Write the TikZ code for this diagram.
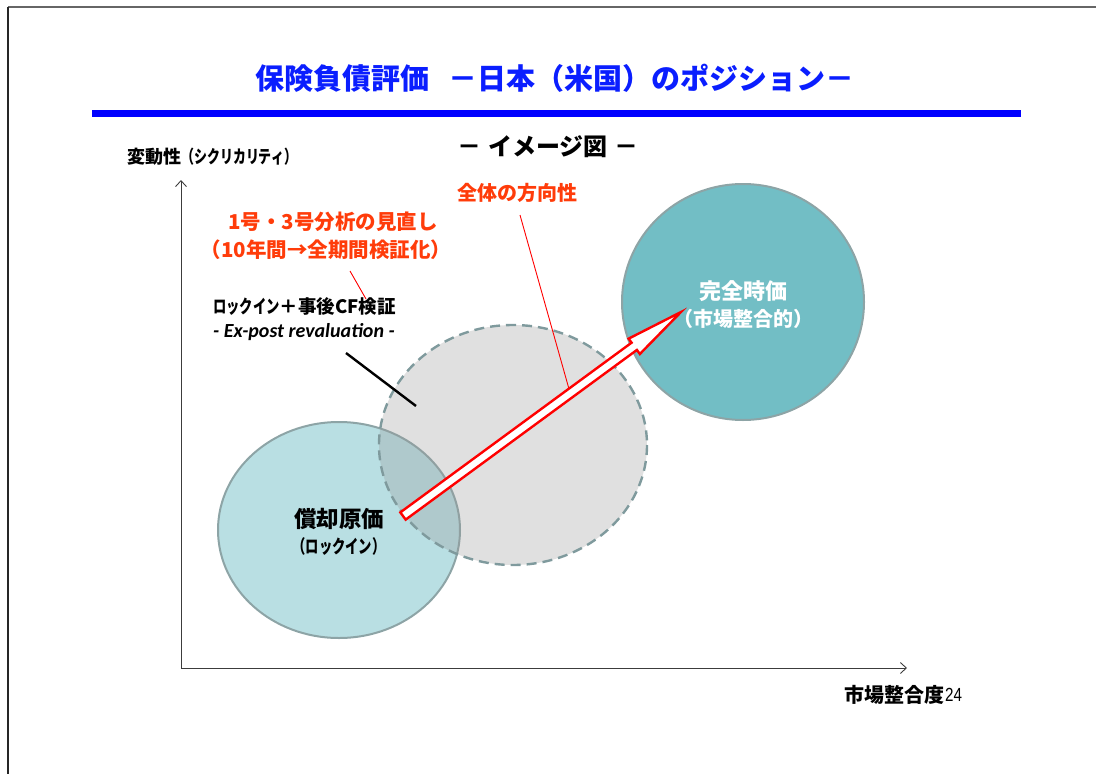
\documentclass[tikz,border=0pt]{standalone}
\usepackage{fontspec}
\usepackage{graphicx}
\setmainfont{Noto Sans CJK JP}
\newfontfamily\carl{Carlito}
\newfontfamily\lib{Liberation Sans}
\usetikzlibrary{calc,arrows.meta}
\definecolor{titleblue}{RGB}{10,30,255}
\definecolor{barblue}{RGB}{0,0,255}
\definecolor{orred}{RGB}{255,60,10}
\definecolor{tealL}{RGB}{185,223,227}
\definecolor{tealD}{RGB}{114,190,197}
\definecolor{edgec}{RGB}{141,164,166}
\definecolor{dashc}{RGB}{127,154,157}
\definecolor{midc}{RGB}{152,152,152}
\definecolor{axisc}{RGB}{60,60,60}
\tikzset{
  lbl/.style={inner sep=0pt, font=\bfseries},
  axisline/.style={draw=axisc, line width=0.9pt, -{Straight Barb[length=6pt,width=11pt]}},
  pointer/.style={draw=red, line width=0.9pt},
  bigarrow/.style={draw=red, line width=2.4pt, fill=white, line join=miter},
  circedge/.style={draw=edgec, line width=2pt},
}
\newcommand{\cond}[1]{\scalebox{0.72}[1]{#1}}
\begin{document}
\begin{tikzpicture}[x=1pt,y=-1pt]
\useasboundingbox (0,0) rectangle (1096,774);
% page frame
\draw[draw=gray!80!black, line width=2pt] (8,7) -- (1096,7);
\draw[draw=black!85, line width=1.6pt] (8,7) -- (8,774);
% title
\node[lbl, text=titleblue, font=\fontsize{29}{32}\selectfont\bfseries] (title) at (555,78) {保険負債評価\hspace{20pt}－日本（米国）のポジション－};
\fill[barblue] (92,110) rectangle (1021,117);
\node[lbl, font=\fontsize{24}{26}\selectfont\bfseries] (image) at (548,147) {－\hspace{7pt}イメージ図\hspace{7pt}－};
% axes
\coordinate (origin) at (181,668);
\coordinate (yend) at (181,180);
\coordinate (xend) at (907,668);
\draw[axisline] (origin) -- (yend);
\draw[axisline] (origin) -- (xend);
\node[lbl, font=\fontsize{18}{20}\selectfont\bfseries, anchor=west] (ylab) at (127,157) {変動性\cond{（シクリカリティ）}};
\node[lbl, font=\fontsize{20}{22}\selectfont\bfseries, anchor=east] (xlab) at (945,695) {市場整合度};
\node[inner sep=0pt, font=\lib\fontsize{19}{21}\selectfont, anchor=west] (pnum) at (xlab.east) {\scalebox{0.8}[1]{24}};
% ellipses
\path[fill=tealL, circedge] (339,530) ellipse [x radius=121, y radius=108];
\fill[midc, fill opacity=0.3] (513,445) ellipse [x radius=134, y radius=120];
\draw[draw=dashc, line width=2.4pt, dash pattern=on 10pt off 6pt] (513,445) ellipse [x radius=134, y radius=120];
\path[fill=tealD, circedge] (743,302) ellipse [x radius=121, y radius=118];
% texts in ellipses
\node[lbl, font=\fontsize{22.5}{24}\selectfont\bfseries] (amort) at (339,519) {償却原価};
\node[lbl, font=\fontsize{18.5}{20}\selectfont\bfseries] (lockin) at (339,546) {\cond{（ロックイン）}};
\node[lbl, text=white, font=\fontsize{22}{24}\selectfont\bfseries] (fair) at (743,291) {完全時価};
\node[lbl, text=white, font=\fontsize{20}{22}\selectfont\bfseries] (market) at (743,319) {（市場整合的）};
% annotation texts
\node[lbl, text=orred, font=\fontsize{20}{22}\selectfont\bfseries] (dir) at (517,193) {全体の方向性};
\node[lbl, text=orred, font=\fontsize{20.5}{22}\selectfont\bfseries] (rev1) at (333,222) {1号・3号分析の見直し};
\node[lbl, text=orred, font=\fontsize{20.5}{22}\selectfont\bfseries] (rev2) at (326,250) {（10年間→全期間検証化）};
\node[lbl, font=\fontsize{18.5}{20}\selectfont\bfseries, anchor=west] (lockcf) at (213,306) {\cond{ロックイン}＋事後CF検証};
\node[inner sep=0pt, font=\carl\bfseries\itshape\fontsize{20}{22}\selectfont, anchor=west] (expost) at (213,332) {- Ex-post revaluation -};
% pointer lines
\coordinate (dirA) at (520,215);
\coordinate (dirB) at (569,389);
\draw[pointer] (dirA) -- (dirB);
\coordinate (revA) at (350,271);
\coordinate (revB) at (366,299);
\draw[pointer] (revA) -- (revB);
\coordinate (blkA) at (346,353);
\coordinate (blkB) at (416,406);
\draw[black, line width=2.4pt] (blkA) -- (blkB);
% big hollow arrow
\coordinate (tail) at (403,516);
\coordinate (tip) at (681,312);
\coordinate (hb) at ($(tip)!58pt!(tail)$);
\draw[bigarrow] ($(tail)!4.5pt!90:(tip)$) -- ($(hb)!4.5pt!90:(tip)$) -- ($(hb)!9.5pt!90:(tip)$) -- (tip)
  -- ($(hb)!9.5pt!-90:(tip)$) -- ($(hb)!4.5pt!-90:(tip)$) -- ($(tail)!4.5pt!-90:(tip)$) -- cycle;
\end{tikzpicture}
\end{document}
